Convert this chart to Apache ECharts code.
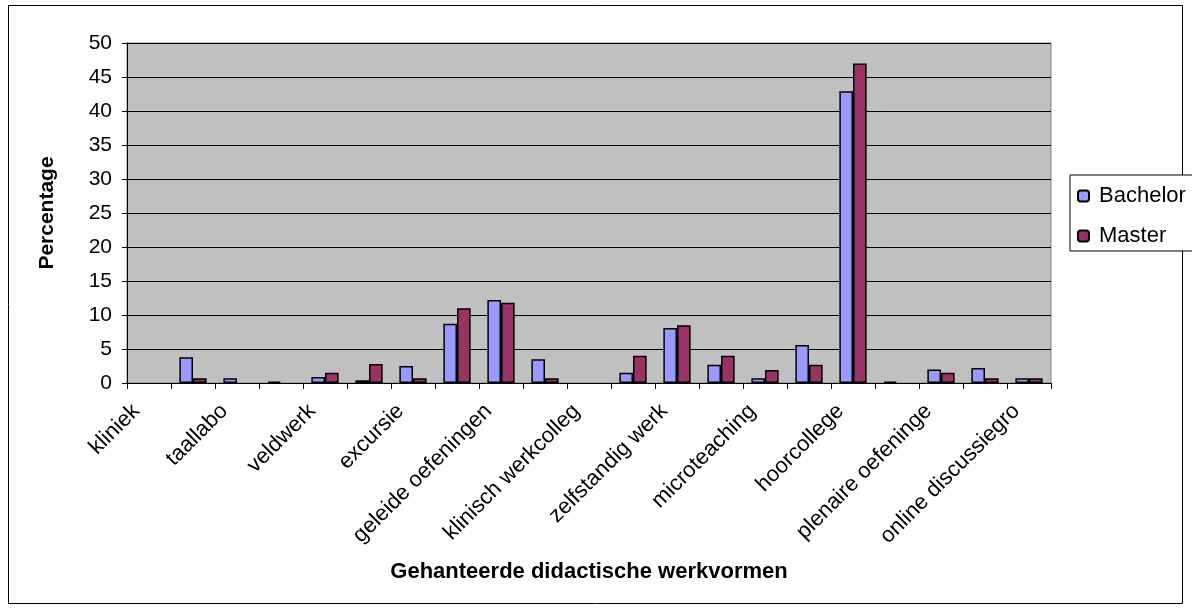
<html>
<head>
    <meta charset="utf-8">
    <title>Didactische werkvormen</title>
    <script src="https://cdn.jsdelivr.net/npm/echarts@6/dist/echarts.min.js"></script>
</head>
<body style="margin:0">
    <div id="main" style="width:1192px;height:610px;"></div>
    <script type="text/javascript">
        // categorieen (alleen elke tweede heeft een zichtbaar label)
        var categories = ['kliniek', '', 'taallabo', '', 'veldwerk', '', 'excursie', '',
            'geleide oefeningen', '', 'klinisch werkcollege', '', 'zelfstandig werk', '',
            'microteaching', '', 'hoorcollege', '', 'plenaire oefeningen', '', 'online discussiegroep'];
        var bachelor = [0, 3.8, 0.7, 0.2, 0.9, 0.4, 2.5, 8.7, 12.2, 3.5, 0, 1.5, 8.1, 2.7, 0.7, 5.6, 42.9, 0.2, 2.0, 2.2, 0.7];
        var master = [0, 0.7, 0, 0, 1.5, 2.8, 0.7, 11.0, 11.8, 0.7, 0, 4.0, 8.5, 4.0, 1.9, 2.7, 47.0, 0, 1.5, 0.7, 0.7];
        var yTicks = [0, 50, 5]; // min, max, interval

        // nullen worden in Excel niet getekend
        function noZero(v) { return v === 0 ? null : v; }

        var myChart = echarts.init(document.getElementById('main'));
        var font = 'Liberation Sans, Arial, sans-serif';

        option = {
            backgroundColor: '#fff',
            animation: false,
            graphic: [{
                type: 'rect',
                shape: { x: 8.5, y: 5.5, width: 1174, height: 598 },
                style: { fill: 'none', stroke: '#000', lineWidth: 1 }
            }],
            grid: {
                left: 127, top: 43, right: 141, bottom: 227,
                show: true,
                backgroundColor: '#C0C0C0',
                borderColor: '#808080',
                borderWidth: 1
            },
            legend: {
                orient: 'vertical',
                left: 1070, top: 175,
                backgroundColor: '#fff',
                borderColor: '#000',
                borderWidth: 1,
                padding: [9, 40, 3, 7],
                itemGap: 16,
                itemWidth: 11, itemHeight: 11,
                textStyle: { fontFamily: font, fontSize: 22, lineHeight: 24, color: '#000', padding: [0, 0, 0, 5] },
                data: ['Bachelor', 'Master']
            },
            xAxis: {
                type: 'category',
                data: categories,
                name: 'Gehanteerde didactische werkvormen',
                nameLocation: 'middle',
                nameGap: 178,
                nameMoveOverlap: false,
                nameTextStyle: { fontFamily: font, fontSize: 22, fontWeight: 'bold', color: '#000' },
                axisLine: { lineStyle: { color: '#000', width: 1 } },
                axisTick: { show: true, interval: 0, length: 6, lineStyle: { color: '#000' } },
                axisLabel: {
                    interval: 0, rotate: 45, margin: 12,
                    padding: [0, 18, 0, 0],
                    // lange labels worden afgekapt zoals in Excel
                    width: 192, overflow: 'truncate', ellipsis: '',
                    fontFamily: font, fontSize: 22, color: '#000'
                }
            },
            yAxis: {
                type: 'value',
                min: yTicks[0], max: yTicks[1], interval: yTicks[2],
                name: 'Percentage',
                nameLocation: 'middle',
                nameGap: 69,
                nameTextStyle: { fontFamily: font, fontSize: 21, fontWeight: 'bold', color: '#000' },
                axisLine: { show: true, lineStyle: { color: '#000' } },
                axisTick: { show: true, length: 5, lineStyle: { color: '#000' } },
                axisLabel: { fontFamily: font, fontSize: 21, color: '#000', margin: 15 },
                splitLine: { lineStyle: { color: '#000', width: 1 } }
            },
            series: [
                {
                    name: 'Bachelor', type: 'bar', data: bachelor.map(noZero),
                    barGap: '0%', barCategoryGap: '38%',
                    itemStyle: { color: '#9999FF', borderColor: '#000', borderWidth: 1.5 }
                },
                {
                    name: 'Master', type: 'bar', data: master.map(noZero),
                    itemStyle: { color: '#993366', borderColor: '#000', borderWidth: 1.5 }
                }
            ]
        };
        myChart.setOption(option);
    </script>
</body>
</html>
